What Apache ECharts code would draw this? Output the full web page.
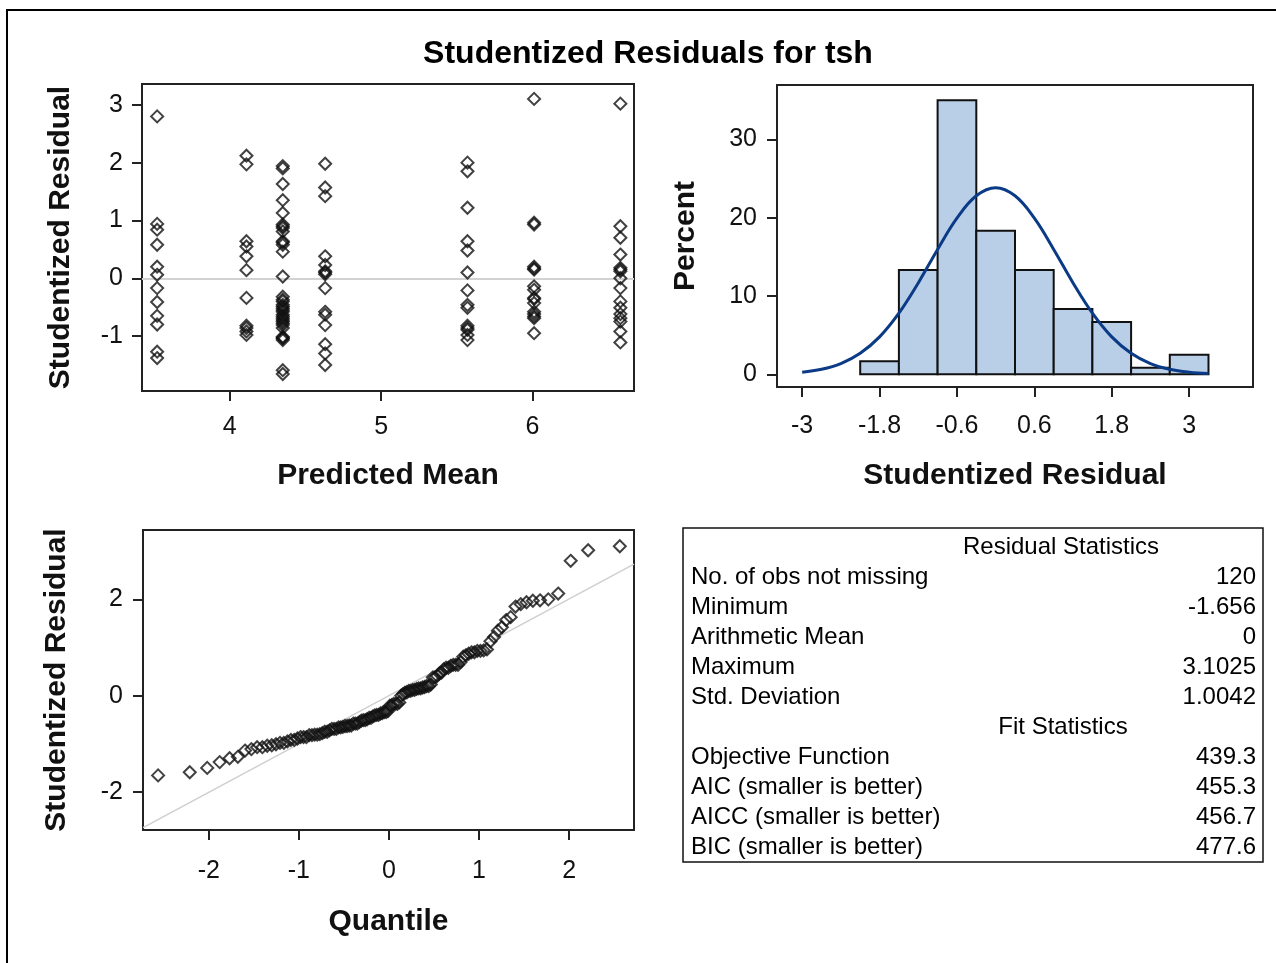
<!DOCTYPE html>
<html><head><meta charset="utf-8">
<script src="https://cdn.jsdelivr.net/npm/echarts@6/dist/echarts.min.js"></script>
<style>html,body{margin:0;padding:0;background:#fff}#c{width:1276px;height:963px}</style>
</head><body><div id="c"></div>
<script>
// ---------- DATA ----------
const chartTitle = 'Studentized Residuals for tsh';
const predictedMeans = [3.52, 4.11, 4.35, 4.63, 5.57, 6.01, 6.58];
const resid1 = [2.80, 0.94, 0.84, 0.58, 0.20, 0.06, -0.17, -0.41, -0.65, -0.80, -1.27, -1.38];
const resid2 = [2.12, 1.97, 0.64, 0.55, 0.38, 0.14, -0.34, -0.82, -0.86, -0.92, -0.98];
const resid3 = [1.94, 1.90, 1.63, 1.35, 1.13, 0.93, 0.90, 0.87, 0.81, 0.64, 0.62, 0.58, 0.46, 0.03,
  -0.32, -0.37, -0.40, -0.46, -0.49, -0.52, -0.55, -0.58, -0.63, -0.66, -0.69, -0.72, -0.75, -0.78,
  -0.81, -0.86, -1.01, -1.03, -1.04, -1.07, -1.59, -1.656];
const resid4 = [1.98, 1.57, 1.42, 0.38, 0.23, 0.12, 0.10, 0.07, -0.17, -0.58, -0.63, -0.81, -1.14, -1.30, -1.50];
const resid5 = [2.00, 1.85, 1.22, 0.64, 0.48, 0.10, -0.21, -0.46, -0.51, -0.82, -0.86, -0.89, -0.98, -1.07];
const resid6 = [3.1025, 0.96, 0.93, 0.20, 0.17, 0.15, -0.14, -0.20, -0.34, -0.36, -0.43, -0.58, -0.62, -0.66, -0.69, -0.95];
const resid7 = [3.02, 0.90, 0.70, 0.41, 0.18, 0.15, 0.12, 0.00, -0.17, -0.40, -0.51, -0.62, -0.69, -0.75, -0.92, -1.11];
const residGroups = [resid1, resid2, resid3, resid4, resid5, resid6, resid7];

const binEdges = [-2.1, -1.5, -0.9, -0.3, 0.3, 0.9, 1.5, 2.1, 2.7, 3.3];
const binPercents = [1.67, 13.33, 35.0, 18.33, 13.33, 8.33, 6.67, 0.83, 2.5];
const densityX = [-3.0, -2.7, -2.4, -2.1, -1.8, -1.5, -1.2, -0.9, -0.6, -0.3, 0, 0.3, 0.6, 0.9, 1.2, 1.5, 1.8, 2.1, 2.4, 2.7, 3.0, 3.3];
const densityPct = [0.27, 0.64, 1.37, 2.68, 4.78, 7.81, 11.67, 15.95, 19.94, 22.80, 23.84, 22.80, 19.94, 15.95, 11.67, 7.81, 4.78, 2.68, 1.37, 0.64, 0.27, 0.11];

const qqLineX = [-2.73, 2.72];
const qqLineY = [-2.74, 2.73];

const scatterXTicks = [4, 5, 6];
const scatterYTicks = [-1, 0, 1, 2, 3];
const histXTicks = [-3, -1.8, -0.6, 0.6, 1.8, 3];
const histYTicks = [0, 10, 20, 30];
const qqXTicks = [-2, -1, 0, 1, 2];
const qqYTicks = [-2, 0, 2];

const residHeader = 'Residual Statistics';
const residLabels = ['No. of obs not missing', 'Minimum', 'Arithmetic Mean', 'Maximum', 'Std. Deviation'];
const residValues = ['120', '-1.656', '0', '3.1025', '1.0042'];
const fitHeader = 'Fit Statistics';
const fitLabels = ['Objective Function', 'AIC (smaller is better)', 'AICC (smaller is better)', 'BIC (smaller is better)'];
const fitValues = ['439.3', '455.3', '456.7', '477.6'];

// ---------- BUILD ----------
const FONT = '"Liberation Sans", Arial, sans-serif';
const scatterData = [];
residGroups.forEach((g, i) => g.forEach(r => scatterData.push([predictedMeans[i], r])));

// normal scores (Blom) for the Q-Q plot
function invNorm(p) {
  const a=[-3.969683028665376e+01,2.209460984245205e+02,-2.759285104469687e+02,1.383577518672690e+02,-3.066479806614716e+01,2.506628277459239e+00];
  const b=[-5.447609879822406e+01,1.615858368580409e+02,-1.556989798598866e+02,6.680131188771972e+01,-1.328068155288572e+01];
  const c=[-7.784894002430293e-03,-3.223964580411365e-01,-2.400758277161838e+00,-2.549671010229179e+00,4.374664141464968e+00,2.938163982698783e+00];
  const d=[7.784695709041462e-03,3.224671290700398e-01,2.445134137142996e+00,3.754408661907416e+00];
  const pl=0.02425, ph=1-pl; let q, r;
  if (p < pl) { q=Math.sqrt(-2*Math.log(p)); return (((((c[0]*q+c[1])*q+c[2])*q+c[3])*q+c[4])*q+c[5])/((((d[0]*q+d[1])*q+d[2])*q+d[3])*q+1); }
  if (p <= ph) { q=p-0.5; r=q*q; return (((((a[0]*r+a[1])*r+a[2])*r+a[3])*r+a[4])*r+a[5])*q/(((((b[0]*r+b[1])*r+b[2])*r+b[3])*r+b[4])*r+1); }
  q=Math.sqrt(-2*Math.log(1-p)); return -(((((c[0]*q+c[1])*q+c[2])*q+c[3])*q+c[4])*q+c[5])/((((d[0]*q+d[1])*q+d[2])*q+d[3])*q+1);
}
const sortedResid = residGroups.flat().slice().sort((x, y) => x - y);
const n = sortedResid.length;
const qqData = sortedResid.map((r, i) => [invNorm((i + 1 - 0.375) / (n + 0.25)), r]);

const histData = binPercents.map((p, i) => [binEdges[i], binEdges[i + 1], p]);
const densityData = densityX.map((x, i) => [x, densityPct[i]]);

const axisColor = '#222';
function mkAxis(opts) {
  return {
    type: 'value', gridIndex: opts.grid, min: opts.min, max: opts.max,
    axisLine: { show: false, onZero: false },
    axisTick: { show: true, customValues: opts.ticks, length: 10, lineStyle: { color: axisColor, width: 2 } },
    axisLabel: { show: true, customValues: opts.ticks, margin: opts.margin, fontSize: 25, color: '#111', fontFamily: FONT },
    splitLine: { show: false },
    name: opts.name, nameLocation: 'middle', nameGap: opts.gap,
    nameTextStyle: { fontSize: 30, fontWeight: 'bold', color: '#111', fontFamily: FONT }
  };
}

const diamond = 'path://M0,-1 L1,0 L0,1 L-1,0 Z';
const mkStyle = { color: 'rgba(0,0,0,0)', borderColor: '#111', borderWidth: 2 };

const graphics = [];
graphics.push({ type: 'rect', shape: { x: 7, y: 10, width: 1300, height: 1000 }, style: { fill: 'none', stroke: '#000', lineWidth: 2 }, silent: true });
graphics.push({ type: 'text', x: 648, y: 54, style: { text: chartTitle, font: 'bold 32px ' + FONT, fill: '#000', textAlign: 'center', textVerticalAlign: 'middle' } });
graphics.push({ type: 'rect', shape: { x: 683, y: 528, width: 580, height: 334 }, style: { fill: 'none', stroke: '#111', lineWidth: 1.5 }, silent: true });
const tFont = '24px ' + FONT;
graphics.push({ type: 'text', x: 1061, y: 547, style: { text: residHeader, font: tFont, fill: '#000', textAlign: 'center', textVerticalAlign: 'middle' } });
residLabels.forEach((l, i) => {
  graphics.push({ type: 'text', x: 691, y: 577 + 30 * i, style: { text: l, font: tFont, fill: '#000', textAlign: 'left', textVerticalAlign: 'middle' } });
  graphics.push({ type: 'text', x: 1256, y: 577 + 30 * i, style: { text: residValues[i], font: tFont, fill: '#000', textAlign: 'right', textVerticalAlign: 'middle' } });
});
graphics.push({ type: 'text', x: 1063, y: 727, style: { text: fitHeader, font: tFont, fill: '#000', textAlign: 'center', textVerticalAlign: 'middle' } });
fitLabels.forEach((l, i) => {
  graphics.push({ type: 'text', x: 691, y: 757 + 30 * i, style: { text: l, font: tFont, fill: '#000', textAlign: 'left', textVerticalAlign: 'middle' } });
  graphics.push({ type: 'text', x: 1256, y: 757 + 30 * i, style: { text: fitValues[i], font: tFont, fill: '#000', textAlign: 'right', textVerticalAlign: 'middle' } });
});

const option = {
  animation: false,
  backgroundColor: '#fff',
  textStyle: { fontFamily: FONT },
  grid: [
    { left: 142, top: 84, width: 492, height: 307, show: true, borderColor: axisColor, borderWidth: 2, backgroundColor: '#fff' },
    { left: 777, top: 85, width: 476, height: 302, show: true, borderColor: axisColor, borderWidth: 2, backgroundColor: '#fff' },
    { left: 143, top: 530, width: 491, height: 300, show: true, borderColor: axisColor, borderWidth: 2, backgroundColor: '#fff' }
  ],
  xAxis: [
    mkAxis({ grid: 0, min: 3.42, max: 6.67, ticks: scatterXTicks, margin: 24, name: 'Predicted Mean', gap: 70 }),
    mkAxis({ grid: 1, min: -3.39, max: 3.99, ticks: histXTicks, margin: 27, name: 'Studentized Residual', gap: 74 }),
    mkAxis({ grid: 2, min: -2.73, max: 2.72, ticks: qqXTicks, margin: 29, name: 'Quantile', gap: 77 })
  ],
  yAxis: [
    mkAxis({ grid: 0, min: -1.95, max: 3.36, ticks: scatterYTicks, margin: 19, name: 'Studentized Residual', gap: 66 }),
    mkAxis({ grid: 1, min: -1.62, max: 36.95, ticks: histYTicks, margin: 20, name: 'Percent', gap: 76 }),
    mkAxis({ grid: 2, min: -2.79, max: 3.44, ticks: qqYTicks, margin: 20, name: 'Studentized Residual', gap: 71 })
  ],
  series: [
    {
      type: 'scatter', xAxisIndex: 0, yAxisIndex: 0, data: scatterData,
      symbol: diamond, symbolSize: 12, itemStyle: mkStyle, z: 3,
      markLine: { silent: true, symbol: 'none', label: { show: false }, lineStyle: { color: '#d2d2d2', width: 2, type: 'solid' }, data: [{ yAxis: 0 }], z: 1 }
    },
    {
      type: 'custom', xAxisIndex: 1, yAxisIndex: 1, data: histData, z: 2,
      renderItem: function (params, api) {
        const p0 = api.coord([api.value(0), api.value(2)]);
        const p1 = api.coord([api.value(1), 0]);
        return { type: 'rect', shape: { x: p0[0], y: p0[1], width: p1[0] - p0[0], height: p1[1] - p0[1] },
          style: { fill: '#b9cfe7', stroke: '#111', lineWidth: 2 } };
      }
    },
    {
      type: 'line', xAxisIndex: 1, yAxisIndex: 1, data: densityData, smooth: 0.4, symbol: 'none', z: 4,
      lineStyle: { color: '#0b3a86', width: 3 }
    },
    {
      type: 'line', xAxisIndex: 2, yAxisIndex: 2, data: qqLineX.map((x, i) => [x, qqLineY[i]]), symbol: 'none', z: 2,
      lineStyle: { color: '#cfcfcf', width: 1.5 }
    },
    {
      type: 'scatter', xAxisIndex: 2, yAxisIndex: 2, data: qqData,
      symbol: diamond, symbolSize: 12, itemStyle: mkStyle, z: 3
    }
  ],
  graphic: graphics
};
const chart = echarts.init(document.getElementById('c'), null, { renderer: 'canvas' });
chart.setOption(option);
</script></body></html>
